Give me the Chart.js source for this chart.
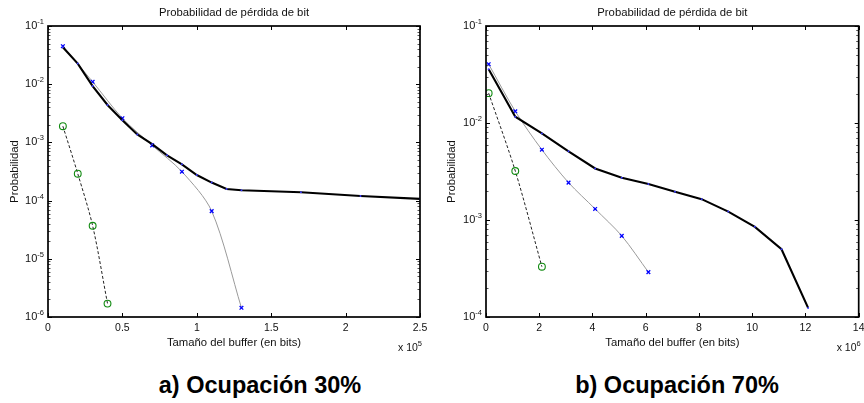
<!DOCTYPE html>
<html><head><meta charset="utf-8">
<script src="https://cdn.jsdelivr.net/npm/chart.js@4/dist/chart.umd.min.js"></script>
<style>
html,body{margin:0;padding:0;background:#fff;width:864px;height:403px;overflow:hidden;}
.wrap{position:absolute;top:0;width:432px;height:360px;}
.cap{position:absolute;top:374px;font:bold 23.5px "Liberation Sans",Arial,sans-serif;line-height:22px;color:#000;text-align:center;width:300px;white-space:nowrap;}
</style></head><body>
<div class="wrap" style="left:0"><canvas id="ca" width="432" height="360"></canvas></div>
<div class="wrap" style="left:432px"><canvas id="cb" width="432" height="360"></canvas></div>
<div class="cap" style="left:110px">a) Ocupación 30%</div>
<div class="cap" style="left:527px">b) Ocupación 70%</div>
<script>
// ---------- Data (chart a: x in units of 1e5 bits) ----------
const titleText = 'Probabilidad de pérdida de bit';
const xTitleText = 'Tamaño del buffer (en bits)';
const yTitleText = 'Probabilidad';

const xBlackA = [0.1,0.2,0.3,0.4,0.5,0.6,0.7,0.8,0.9,1.0,1.1,1.2,1.3,1.7,2.1,2.5];
const yBlackA = [0.043,0.0226,0.0093,0.0044,0.0024,0.00137,0.00093,0.0006,0.00042,0.000275,0.000204,0.000158,0.000151,0.000139,0.00012,0.000107];
const xBlueA  = [0.1,0.3,0.5,0.7,0.9,1.1,1.3];
const yBlueA  = [0.045,0.011,0.0026,0.00089,0.000314,0.000066,0.00000144];
const xGreenA = [0.1,0.2,0.3,0.4];
const yGreenA = [0.0019,0.00029,0.000037,0.0000017];
const xTicksA = [0,0.5,1,1.5,2,2.5];
const xTickLabelsA = ['0','0.5','1','1.5','2','2.5'];
const yExpA = [-6,-5,-4,-3,-2,-1];
const xExpA = '5';

// ---------- Data (chart b: x in units of 1e6 bits) ----------
const xBlackB = [0.1,1.1,2.1,3.1,4.1,5.1,6.1,7.1,8.1,9.1,10.1,11.1,12.1];
const yBlackB = [0.0359,0.0116,0.0078,0.0051,0.0034,0.00273,0.00235,0.00196,0.00164,0.00122,0.00085,0.0005,0.000124];
const xBlueB  = [0.1,1.1,2.1,3.1,4.1,5.1,6.1];
const yBlueB  = [0.0404,0.0132,0.0053,0.00243,0.0013,0.000686,0.00029];
const xGreenB = [0.1,1.1,2.1];
const yGreenB = [0.0203,0.0032,0.00033];
const xTicksB = [0,2,4,6,8,10,12,14];
const xTickLabelsB = ['0','2','4','6','8','10','12','14'];
const yExpB = [-4,-3,-2,-1];
const xExpB = '6';

const FONT = '"Liberation Sans", Arial, sans-serif';
const pts = (xs, ys) => xs.map((v, i) => ({x: v, y: ys[i]}));

const matlabAxes = {
  id: 'matlabAxes',
  afterDraw(chart) {
    const o = chart.options.plugins.matlabAxes;
    const {ctx, chartArea: a} = chart;
    const xs = chart.scales.x, ys = chart.scales.y;
    const line = (x1, y1, x2, y2) => { ctx.beginPath(); ctx.moveTo(x1, y1); ctx.lineTo(x2, y2); ctx.stroke(); };
    ctx.save();
    ctx.strokeStyle = '#000';
    ctx.lineWidth = 1;
    o.xTicks.forEach(v => {
      const px = Math.round(xs.getPixelForValue(v)) + 0.5;
      line(px, a.bottom, px, a.bottom - 4);
      line(px, a.top, px, a.top + 4);
    });
    const e0 = o.yExp[0], e1 = o.yExp[o.yExp.length - 1];
    for (let e = e0; e <= e1; e++) {
      const py = Math.round(ys.getPixelForValue(Math.pow(10, e))) + 0.5;
      ctx.strokeStyle = '#000';
      line(a.left, py, a.left + 4, py);
      line(a.right, py, a.right - 4, py);
      if (e < e1) {
        ctx.strokeStyle = '#555';
        for (let k = 2; k <= 9; k++) {
          const pm = Math.round(ys.getPixelForValue(k * Math.pow(10, e))) + 0.5;
          line(a.left, pm, a.left + 2.5, pm);
          line(a.right, pm, a.right - 2.5, pm);
        }
      }
    }
    ctx.strokeStyle = '#000';
    ctx.lineWidth = 1.7;
    ctx.strokeRect(a.left, a.top, a.right - a.left, a.bottom - a.top);

    ctx.fillStyle = '#111';
    ctx.font = '10.5px ' + FONT;
    ctx.textAlign = 'center';
    ctx.textBaseline = 'middle';
    o.xTicks.forEach((v, i) => {
      ctx.fillText(o.xTickLabels[i], xs.getPixelForValue(v), a.bottom + 11);
    });
    o.yExp.forEach(e => {
      const py = ys.getPixelForValue(Math.pow(10, e));
      const sup = String(e);
      ctx.font = '7.5px ' + FONT;
      const sw = ctx.measureText(sup).width;
      ctx.textAlign = 'right';
      ctx.fillText(sup, a.left - 4, py - 4);
      ctx.font = '11px ' + FONT;
      ctx.fillText('10', a.left - 4 - sw, py);
    });
    ctx.font = '7.5px ' + FONT;
    const esw = ctx.measureText(o.xExp).width;
    ctx.textAlign = 'right';
    ctx.fillText(o.xExp, a.right + 2, a.bottom + 27);
    ctx.font = '10.5px ' + FONT;
    ctx.fillText('x 10', a.right + 2 - esw, a.bottom + 31);
    const cx = (a.left + a.right) / 2;
    ctx.textAlign = 'center';
    ctx.font = '11.3px ' + FONT;
    ctx.fillText(o.title, cx, 13);
    ctx.fillText(o.xTitle, cx, a.bottom + 26);
    ctx.save();
    ctx.translate(o.yTitleX, (a.top + a.bottom) / 2);
    ctx.rotate(-Math.PI / 2);
    ctx.fillText(o.yTitle, 0, 0);
    ctx.restore();
    ctx.restore();
  }
};

function makeChart(id, cfg) {
  return new Chart(document.getElementById(id), {
    type: 'line',
    data: {
      datasets: [
        { data: pts(cfg.xBlack, cfg.yBlack), borderColor: '#000', borderWidth: 2.1, tension: 0,
          pointRadius: 1, pointBackgroundColor: '#3b3bff', pointBorderWidth: 0 },
        { data: pts(cfg.xBlue, cfg.yBlue), borderColor: '#9a9a9a', borderWidth: 1, tension: 0.3,
          pointStyle: 'crossRot', pointRadius: 2.6, pointBorderColor: '#0000ff', pointBorderWidth: 1.3 },
        { data: pts(cfg.xGreen, cfg.yGreen), borderColor: '#222', borderWidth: 1, borderDash: [3, 2], tension: 0.3,
          pointStyle: 'circle', pointRadius: 3.4, pointBorderColor: '#108a10', pointBackgroundColor: 'rgba(0,0,0,0)', pointBorderWidth: 1.1 }
      ]
    },
    options: {
      responsive: false,
      animation: false,
      events: [],
      layout: { padding: { left: 0, right: cfg.padRight, top: 26, bottom: 0 } },
      scales: {
        x: { type: 'linear', min: cfg.xMin, max: cfg.xMax,
             grid: { display: false }, border: { display: false }, ticks: { display: false },
             afterFit: s => { s.height = 43; } },
        y: { type: 'logarithmic', min: cfg.yMin, max: cfg.yMax,
             grid: { display: false }, border: { display: false }, ticks: { display: false },
             afterFit: s => { s.width = cfg.yWidth; } }
      },
      plugins: {
        legend: { display: false },
        tooltip: { enabled: false },
        matlabAxes: { xTicks: cfg.xTicks, xTickLabels: cfg.xTickLabels, yExp: cfg.yExp, xExp: cfg.xExp,
                      title: titleText, xTitle: xTitleText, yTitle: yTitleText, yTitleX: cfg.yTitleX }
      }
    },
    plugins: [matlabAxes]
  });
}

makeChart('ca', { xBlack: xBlackA, yBlack: yBlackA, xBlue: xBlueA, yBlue: yBlueA, xGreen: xGreenA, yGreen: yGreenA,
  xMin: 0, xMax: 2.5, yMin: 1e-6, yMax: 1e-1, xTicks: xTicksA, xTickLabels: xTickLabelsA, yExp: yExpA, xExp: xExpA,
  yWidth: 48, padRight: 12, yTitleX: 15 });
makeChart('cb', { xBlack: xBlackB, yBlack: yBlackB, xBlue: xBlueB, yBlue: yBlueB, xGreen: xGreenB, yGreen: yGreenB,
  xMin: 0, xMax: 14, yMin: 1e-4, yMax: 1e-1, xTicks: xTicksB, xTickLabels: xTickLabelsB, yExp: yExpB, xExp: xExpB,
  yWidth: 54, padRight: 4, yTitleX: 20 });
</script>
</body></html>
